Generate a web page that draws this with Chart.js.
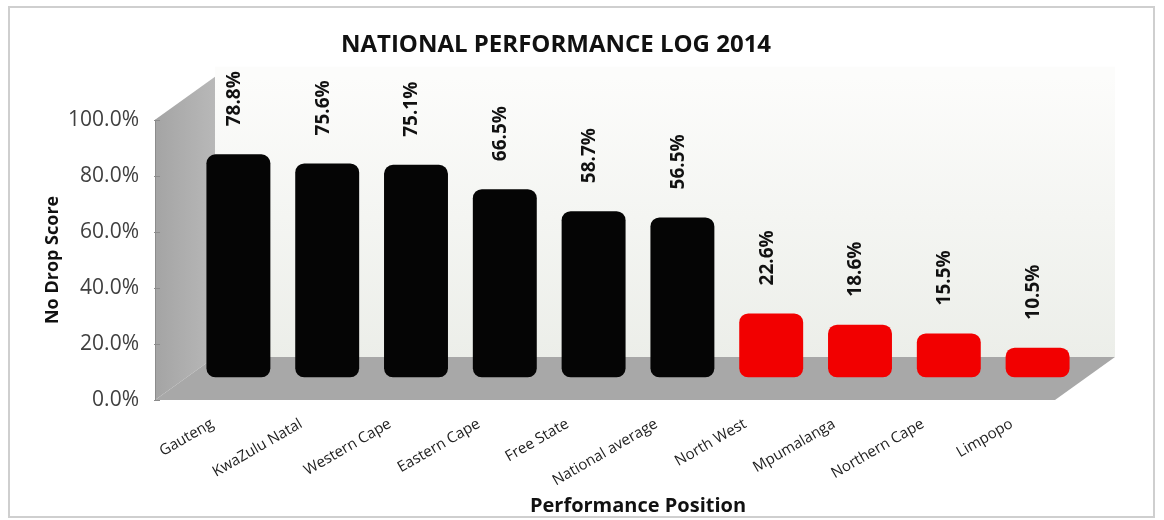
<!DOCTYPE html>
<html>
<head>
<meta charset="utf-8">
<script src="https://cdn.jsdelivr.net/npm/chart.js@4.4.1/dist/chart.umd.min.js"></script>
<style>
  html, body { margin: 0; padding: 0; background: #fff; }
  #wrap { width: 1164px; height: 520px; }
</style>
</head>
<body>
<div id="wrap"><canvas id="chart1" width="1164" height="520"></canvas></div>
<script>
const provinces = ['Gauteng', 'KwaZulu Natal', 'Western Cape', 'Eastern Cape', 'Free State',
  'National average', 'North West', 'Mpumalanga', 'Northern Cape', 'Limpopo'];
const scores = [78.8, 75.6, 75.1, 66.5, 58.7, 56.5, 22.6, 18.6, 15.5, 10.5];
const barColors = ['#050505', '#050505', '#050505', '#050505', '#050505', '#050505',
  '#f20000', '#f20000', '#f20000', '#f20000'];
const yTicks = [0, 20, 40, 60, 80, 100];

const ctx1 = document.getElementById('chart1');

// fake 3D backdrop: back wall, side wall, floor
const backdrop = {
  id: 'backdrop',
  beforeDatasetsDraw(chart) {
    const c = chart.ctx;
    const y = chart.scales.y;
    const area = chart.chartArea;
    const y0 = y.getPixelForValue(0);
    const y100 = y.getPixelForValue(100);
    const fx = area.left - 39;
    const dx = 60, dy = -43;
    const fr = area.right - 27;
    c.save();
    // back wall
    const g = c.createLinearGradient(0, y100 + dy, 0, y0 + dy);
    g.addColorStop(0, '#fcfcfb');
    g.addColorStop(1, '#eceee9');
    c.fillStyle = g;
    c.fillRect(fx + dx, y100 + dy - 10, fr - fx, y0 - y100 + 10);
    // side wall
    const gw = c.createLinearGradient(fx, 0, fx + dx, 0);
    gw.addColorStop(0, '#a4a4a4');
    gw.addColorStop(1, '#b8b8b8');
    c.fillStyle = gw;
    c.beginPath();
    c.moveTo(fx, y0);
    c.lineTo(fx, y100);
    c.lineTo(fx + dx, y100 + dy);
    c.lineTo(fx + dx, y0 + dy);
    c.closePath();
    c.fill();
    // floor
    c.fillStyle = '#a8a8a8';
    c.beginPath();
    c.moveTo(fx, y0);
    c.lineTo(fr, y0);
    c.lineTo(fr + dx, y0 + dy);
    c.lineTo(fx + dx, y0 + dy);
    c.closePath();
    c.fill();
    // axis tick marks on the front edge
    c.strokeStyle = '#8c8c8c';
    c.lineWidth = 1;
    c.beginPath();
    c.moveTo(fx + 0.5, y100);
    c.lineTo(fx + 0.5, y0);
    yTicks.forEach(v => {
      const py = Math.round(y.getPixelForValue(v)) + 0.5;
      c.moveTo(fx - 1, py);
      c.lineTo(fx + 5, py);
    });
    c.stroke();
    c.restore();
  },
  afterDraw(chart) {
    const c = chart.ctx;
    c.save();
    c.strokeStyle = '#cfcfcf';
    c.lineWidth = 2;
    c.strokeRect(9, 7, 1145, 510);
    c.restore();
  }
};

// vertical value labels above bars
const valueLabels = {
  id: 'valueLabels',
  afterDatasetsDraw(chart) {
    const c = chart.ctx;
    const meta = chart.getDatasetMeta(0);
    c.save();
    c.font = 'bold 19px "Open Sans", sans-serif';
    c.fillStyle = '#111';
    c.textAlign = 'left';
    c.textBaseline = 'middle';
    meta.data.forEach((bar, i) => {
      c.save();
      c.translate(bar.x - 4, bar.y - 28);
      c.rotate(-Math.PI / 2);
      c.fillText(scores[i].toFixed(1) + '%', 0, 0);
      c.restore();
    });
    c.restore();
  }
};

new Chart(ctx1, {
  type: 'bar',
  data: {
    labels: provinces,
    datasets: [
      {
        label: 'No Drop Score',
        data: scores,
        yAxisID: 'yb',
        backgroundColor: barColors,
        borderRadius: 9,
        borderSkipped: false,
        barPercentage: 0.72,
        categoryPercentage: 1,
      },
    ],
  },
  options: {
    responsive: false,
    animation: false,
    layout: {
      padding: { left: 30, right: 82, top: 0, bottom: 2 },
    },
    plugins: {
      legend: { display: false },
      tooltip: { enabled: false },
      title: {
        display: true,
        text: 'NATIONAL PERFORMANCE LOG 2014',
        color: '#111',
        font: { family: '"Open Sans", sans-serif', size: 24, weight: 'bold' },
        padding: { top: 31, bottom: 60 },
      },
    },
    scales: {
      x: {
        grid: { display: false, drawTicks: false },
        border: { display: false },
        ticks: {
          autoSkip: false,
          minRotation: 30,
          maxRotation: 30,
          labelOffset: -26,
          padding: 15,
          color: '#222',
          font: { family: '"Open Sans", sans-serif', size: 15 },
        },
        title: {
          display: true,
          text: 'Performance Position',
          color: '#111',
          font: { family: '"Open Sans", sans-serif', size: 20, weight: 'bold' },
          padding: { top: 0, bottom: 0 },
        },
        afterFit(scale) { scale.height = 118; },
      },
      y: {
        min: 0,
        max: 100,
        grid: { display: false, drawTicks: false },
        border: { display: false },
        ticks: {
          stepSize: 20,
          padding: 55,
          color: '#404040',
          font: { family: '"Open Sans", sans-serif', size: 21 },
          callback: v => v.toFixed(1) + '%',
        },
        title: {
          display: true,
          text: 'No Drop Score',
          color: '#111',
          font: { family: '"Open Sans", sans-serif', size: 18, weight: 'bold' },
          padding: { top: 12, bottom: 0 },
        },
        afterFit(scale) { scale.width = 164; },
      },
      yb: {
        display: false,
        min: -8,
        max: 91,
      },
    },
  },
  plugins: [backdrop, valueLabels],
});
</script>
</body>
</html>
